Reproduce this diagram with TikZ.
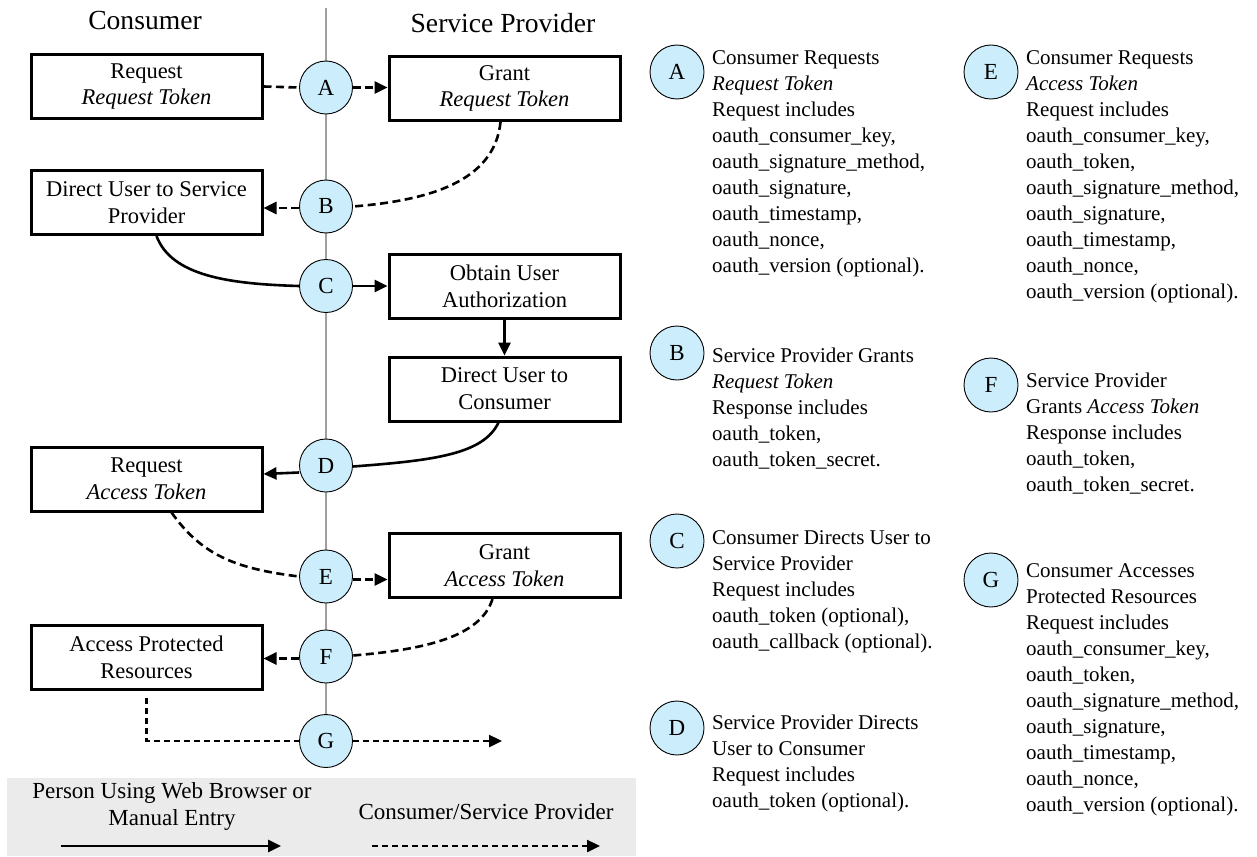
\documentclass[tikz,border=0pt]{standalone}
\usepackage{fontspec}
\setmainfont{Liberation Serif}
\usetikzlibrary{arrows.meta}
\definecolor{circfill}{RGB}{204,237,252}
\definecolor{bandgray}{RGB}{235,235,235}
\definecolor{axisgray}{RGB}{160,160,160}
\pgfdeclarelayer{bg}
\pgfsetlayers{bg,main}
\begin{document}
\begin{tikzpicture}[x=1pt,y=-1pt,
  box/.style={draw, line width=3pt, fill=white, minimum width=231pt, minimum height=64pt, align=center, inner sep=2pt, font=\fontsize{22.5}{26.7}\selectfont},
  circ/.style={circle, draw, line width=0.9pt, fill=circfill, minimum size=53pt, inner sep=0pt, font=\fontsize{23}{26}\selectfont},
  rcirc/.style={circ, minimum size=54pt},
  desc/.style={anchor=north west, align=left, inner sep=0pt, font=\fontsize{21}{26}\selectfont},
  head/.style={inner sep=0pt, font=\fontsize{27.6}{32}\selectfont},
  legtext/.style={inner sep=0pt, align=center, font=\fontsize{23}{27}\selectfont},
  conn/.style={line width=2.6pt},
  dsh/.style={conn, dash pattern=on 8pt off 4.5pt},
  dotl/.style={line width=2.4pt, dash pattern=on 6pt off 4pt},
  tip/.style={-{Triangle[length=13pt,width=12pt]}},
  ]
\useasboundingbox (0,0) rectangle (1257,856);

% headers
\node[head] (hcons) at (145,20) {Consumer};
\node[head] (hsp) at (503,23) {Service Provider};

% boxes
\node[box] (reqRT) at (146.5,86.5) {Request\\\textit{Request Token}};
\node[box] (grantRT) at (504.5,88.5) {Grant\\\textit{Request Token}};
\node[box] (dirSP) at (146.5,202.5) {Direct User to Service\\Provider};
\node[box] (obtain) at (504.5,286) {Obtain User\\Authorization};
\node[box] (dirC) at (504.5,389) {Direct User to\\Consumer};
\node[box] (reqAT) at (146.5,479) {Request\\\textit{Access Token}};
\node[box] (grantAT) at (504.5,565.5) {Grant\\\textit{Access Token}};
\node[box] (apr) at (146.5,657.5) {Access Protected\\Resources};

% step circles
\node[circ] (A) at (326,87.5) {A};
\node[circ] (B) at (326,206.5) {B};
\node[circ] (C) at (326,286) {C};
\node[circ] (D) at (326,465.5) {D};
\node[circ] (E) at (326,576.5) {E};
\node[circ] (F) at (326,656.5) {F};
\node[circ] (G) at (326,741) {G};

\coordinate (axtop) at (326,8);
\coordinate (gend) at (502,741);
\coordinate (gstart) at (146.5,698);
\coordinate (gcorner) at (146.5,741);

\begin{pgfonlayer}{bg}
\draw[axisgray, line width=1.5pt] (axtop) -- (G.center);
% A
\draw[dsh] (reqRT.east) -- (A.west);
\draw[dsh,tip] (A.east) -- (A.east -| grantRT.west);
% B
\draw[dsh] ([xshift=-4pt]grantRT.south) .. controls +(-6,60) and +(75,-6) .. (B.east);
\draw[dsh,tip] ([yshift=-1.5pt]B.west) -- ([yshift=-1.5pt]B.west -| dirSP.east);
% C
\draw[conn] ([xshift=10pt]dirSP.south) .. controls +(15,40) and +(-70,-2) .. (C.west);
\draw[conn,tip] (C.east) -- (C.east -| obtain.west);
\draw[conn,tip] (obtain.south) -- (dirC.north);
% D
\draw[conn] ([xshift=-6pt]dirC.south) .. controls +(-15,32) and +(80,-6) .. ([yshift=-1pt]D.east);
\draw[conn,tip] ([yshift=-7pt]D.west) -- ([yshift=5pt]reqAT.east);
% E
\draw[dsh] ([xshift=25pt]reqAT.south) .. controls +(30,42) and +(-65,-8) .. (E.west);
\draw[dsh,tip] ([yshift=-3pt]E.east) -- ([yshift=-3pt]E.east -| grantAT.west);
% F
\draw[dsh] ([xshift=-12pt]grantAT.south) .. controls +(-12,38) and +(72,-6) .. ([yshift=1pt]F.east);
\draw[dsh,tip] ([yshift=-2pt]F.west) -- ([yshift=-2pt]F.west -| apr.east);
% G
\draw[dotl] (gstart) -- (gcorner) -- (G.center);
\draw[dotl,tip] (G.east) -- (gend);
\end{pgfonlayer}

% legend
\fill[bandgray] (7,778) rectangle (636,856);
\node[legtext] (lgperson) at (172,806) {Person Using Web Browser or\\Manual Entry};
\node[legtext] (lgcsp) at (486,812) {Consumer/Service Provider};
\coordinate (ls1) at (61,846);
\coordinate (ls2) at (281,846);
\coordinate (ld1) at (372,846);
\coordinate (ld2) at (600,846);
\draw[conn,tip] (ls1) -- (ls2);
\draw[dotl,tip] (ld1) -- (ld2);

% descriptions
\node[rcirc] (rA) at (677,72) {A};
\node[desc] (tA) at (712,50) {Consumer Requests\\\textit{Request Token}\\Request includes\\oauth\_consumer\_key,\\oauth\_signature\_method,\\oauth\_signature,\\oauth\_timestamp,\\oauth\_nonce,\\oauth\_version (optional).};
\node[rcirc] (rB) at (677,353) {B};
\node[desc] (tB) at (712,348) {Service Provider Grants\\\textit{Request Token}\\Response includes\\oauth\_token,\\oauth\_token\_secret.};
\node[rcirc] (rC) at (677,541) {C};
\node[desc] (tC) at (712,530) {Consumer Directs User to\\Service Provider\\Request includes\\oauth\_token (optional),\\oauth\_callback (optional).};
\node[rcirc] (rD) at (677,728) {D};
\node[desc] (tD) at (712,715) {Service Provider Directs\\User to Consumer\\Request includes\\oauth\_token (optional).};
\node[rcirc] (rE) at (991,72) {E};
\node[desc] (tE) at (1026,50) {Consumer Requests\\\textit{Access Token}\\Request includes\\oauth\_consumer\_key,\\oauth\_token,\\oauth\_signature\_method,\\oauth\_signature,\\oauth\_timestamp,\\oauth\_nonce,\\oauth\_version (optional).};
\node[rcirc] (rF) at (991,385) {F};
\node[desc] (tF) at (1026,373) {Service Provider\\Grants \textit{Access Token}\\Response includes\\oauth\_token,\\oauth\_token\_secret.};
\node[rcirc] (rG) at (991,580) {G};
\node[desc] (tG) at (1026,563) {Consumer Accesses\\Protected Resources\\Request includes\\oauth\_consumer\_key,\\oauth\_token,\\oauth\_signature\_method,\\oauth\_signature,\\oauth\_timestamp,\\oauth\_nonce,\\oauth\_version (optional).};
\end{tikzpicture}
\end{document}
